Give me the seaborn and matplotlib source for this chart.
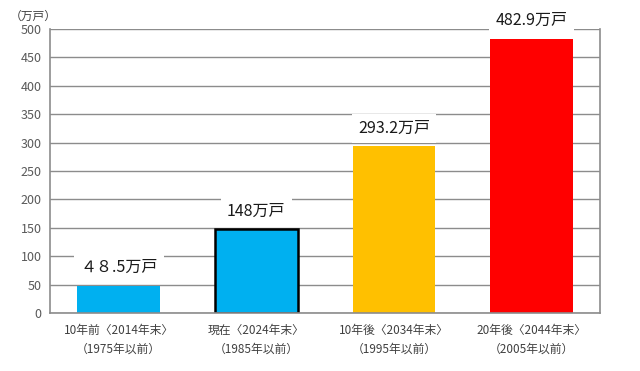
import pandas as pd
import matplotlib
matplotlib.use("Agg")
import matplotlib.pyplot as plt
import seaborn as sns

# Data
categories = ["10年前〈2014年末〉\n（1975年以前）",
              "現在〈2024年末〉\n（1985年以前）",
              "10年後〈2034年末〉\n（1995年以前）",
              "20年後〈2044年末〉\n（2005年以前）"]
values = [48.5, 148, 293.2, 482.9]
value_labels = ["４８.5万戸", "148万戸", "293.2万戸", "482.9万戸"]
bar_colors = ["#00B0F0", "#00B0F0", "#FFC000", "#FF0000"]
y_ticks = [0, 50, 100, 150, 200, 250, 300, 350, 400, 450, 500]

sns.set_style("white")
plt.rcParams["font.family"] = ["Noto Sans CJK JP", "DejaVu Sans"]

df = pd.DataFrame({"category": categories, "value": values})

fig = plt.figure(figsize=(6.4, 3.71), dpi=100)
ax = fig.add_axes([0.078, 0.156, 0.86, 0.766])

sns.barplot(data=df, x="category", y="value", hue="category",
            palette=bar_colors, width=0.6, legend=False, ax=ax,
            saturation=1, linewidth=0)

# current year bar has a black outline
ax.patches[1].set_edgecolor("black")
ax.patches[1].set_linewidth(1.8)

ax.set_ylim(0, 500)
ax.set_yticks(y_ticks)
ax.set_xlim(-0.5, 3.5)
ax.yaxis.grid(True, color="#8c8c8c", linewidth=1)
ax.set_axisbelow(True)
for side in ["left", "bottom", "right"]:
    ax.spines[side].set_color("#8c8c8c")
    ax.spines[side].set_linewidth(1.2)
ax.spines["top"].set_visible(False)
ax.tick_params(axis="both", length=0)
ax.tick_params(axis="y", labelsize=9, labelcolor="#595959", pad=6)
ax.tick_params(axis="x", labelsize=8.5, labelcolor="#404040", pad=8)
for t in ax.get_xticklabels():
    t.set_linespacing(1.5)
ax.set_xlabel("")
ax.set_ylabel("")

for i, (v, lab) in enumerate(zip(values, value_labels)):
    ax.annotate(lab, (i, v), xytext=(0, 13), textcoords="offset points",
                ha="center", va="center", fontsize=11.5, color="#1a1a1a",
                bbox=dict(boxstyle="square,pad=0.4", fc="white", ec="none"))

fig.text(0.015, 0.955, "（万戸）", fontsize=8.5, color="#404040", va="center")

fig.savefig("out.png", dpi=100)
